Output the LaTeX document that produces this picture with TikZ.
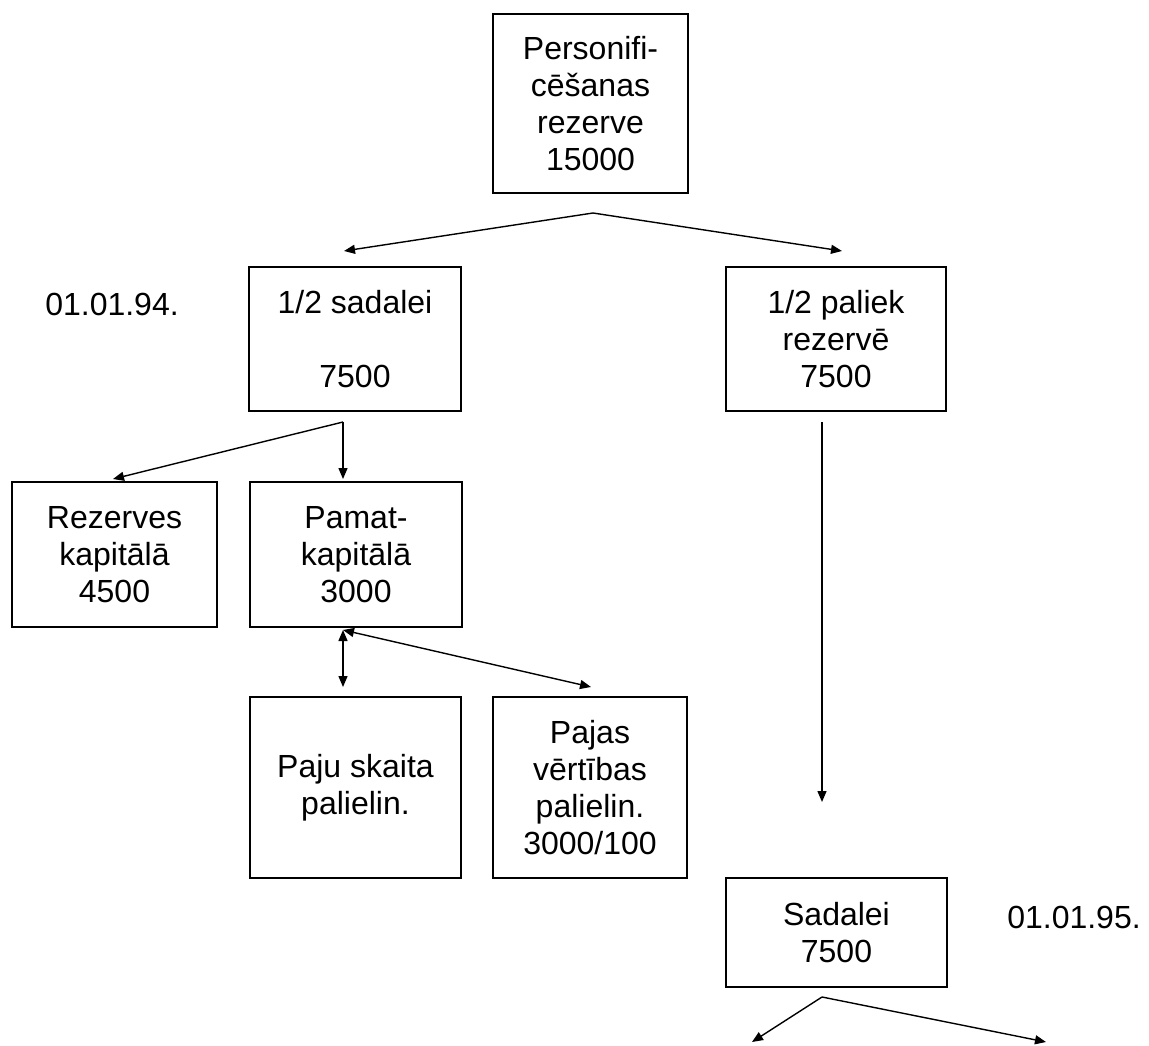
\documentclass[tikz,border=0pt]{standalone}
\usepackage{fontspec}
\setmainfont{Liberation Sans}
\usetikzlibrary{arrows.meta}
\begin{document}
\begin{tikzpicture}[x=1pt,y=-1pt,
  box/.style={draw, line width=1.8pt, align=center, inner sep=0pt,
    font=\fontsize{32}{37}\selectfont},
  lbl/.style={align=center, inner sep=0pt, font=\fontsize{32}{37}\selectfont},
  arr/.style={line width=1.4pt, -{Triangle[length=11pt,width=9pt]}},
  darr/.style={line width=1.4pt, {Triangle[length=11pt,width=9pt]}-{Triangle[length=11pt,width=9pt]}}]
\useasboundingbox (0,0) rectangle (1149,1046);
% boxes
\node[box, minimum width=195pt, minimum height=179pt] (top) at (590.5,103.5) {Personifi-\\cēšanas\\rezerve\\15000};
\node[box, minimum width=212pt, minimum height=144pt] (sad) at (355,339) {1/2 sadalei\\\mbox{}\\7500};
\node[box, minimum width=220pt, minimum height=144pt] (pal) at (836,339) {1/2 paliek\\rezervē\\7500};
\node[box, minimum width=205pt, minimum height=145pt] (rez) at (114.5,554.5) {Rezerves\\kapitālā\\4500};
\node[box, minimum width=212pt, minimum height=145pt] (pam) at (356,554.5) {Pamat-\\kapitālā\\3000};
\node[box, minimum width=211pt, minimum height=181pt] (paju) at (355.5,787.5) {Paju skaita\\palielin.};
\node[box, minimum width=194pt, minimum height=181pt] (pajas) at (590,787.5) {Pajas\\vērtības\\palielin.\\3000/100};
\node[box, minimum width=221pt, minimum height=109pt] (sdl) at (836.5,932.5) {Sadalei\\7500};
% date labels
\node[lbl] (d94) at (112,304) {01.01.94.};
\node[lbl] (d95) at (1074,917) {01.01.95.};
% connector points
\coordinate (a1) at (593,213);
\coordinate (t1) at (344,251);
\coordinate (t2) at (842,251);
\coordinate (a2) at (343,422);
\coordinate (t3) at (113,479);
\coordinate (t4) at (343,479);
\coordinate (a3) at (343,630);
\coordinate (t5) at (343,687);
\coordinate (t6) at (591,687);
\coordinate (a4) at (822,422);
\coordinate (t7) at (822,802);
\coordinate (a5) at (822,997);
\coordinate (t8) at (752,1042);
\coordinate (t9) at (1046,1042);
% connectors
\draw[arr] (a1) -- (t1);
\draw[arr] (a1) -- (t2);
\draw[arr] (a2) -- (t3);
\draw[arr] (a2) -- (t4);
\draw[darr] (a3) -- (t5);
\draw[darr] (a3) -- (t6);
\draw[arr] (a4) -- (t7);
\draw[arr] (a5) -- (t8);
\draw[arr] (a5) -- (t9);
\end{tikzpicture}
\end{document}
